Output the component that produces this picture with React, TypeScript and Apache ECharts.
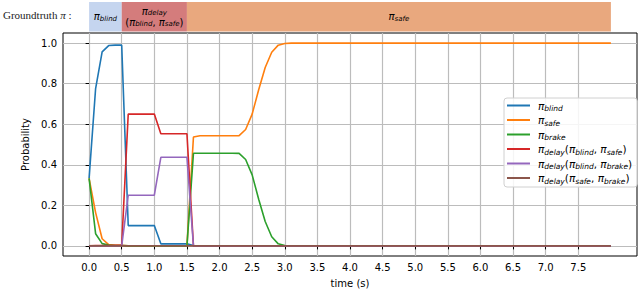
import { useEffect, useRef } from 'react';
import * as echarts from 'echarts';

// time samples (s)
const TIME = [0, 0.1, 0.2, 0.3, 0.4, 0.5, 0.6, 0.7, 0.8, 0.9, 1.0, 1.1, 1.2, 1.3, 1.4, 1.5, 1.6, 1.7, 1.8, 1.9, 2.0, 2.1, 2.2, 2.3, 2.4, 2.5, 2.6, 2.7, 2.8, 2.9, 3.0, 3.1, 3.2, 8.0];

const P_BLIND = [0.333, 0.776, 0.957, 0.988, 0.99, 0.99, 0.1, 0.1, 0.1, 0.1, 0.1, 0.01, 0.01, 0.01, 0.01, 0.01, 0.002, 0, 0, 0, 0, 0, 0, 0, 0, 0, 0, 0, 0, 0, 0, 0, 0, 0];
const P_SAFE = [0.333, 0.164, 0.035, 0.006, 0.003, 0.003, 0, 0, 0, 0, 0, 0, 0, 0, 0, 0, 0.537, 0.543, 0.543, 0.543, 0.543, 0.543, 0.543, 0.544, 0.574, 0.65, 0.77, 0.88, 0.955, 0.99, 0.998, 1.0, 1.0, 1.0];
const P_BRAKE = [0.333, 0.06, 0.011, 0.004, 0.002, 0.002, 0, 0, 0, 0, 0, 0, 0, 0, 0, 0, 0.457, 0.457, 0.457, 0.457, 0.457, 0.457, 0.457, 0.456, 0.426, 0.35, 0.23, 0.12, 0.045, 0.01, 0.002, 0, 0, 0];
const P_DELAY_BS = [0, 0.002, 0.002, 0.002, 0.003, 0.003, 0.65, 0.65, 0.65, 0.65, 0.65, 0.553, 0.553, 0.553, 0.553, 0.553, 0, 0, 0, 0, 0, 0, 0, 0, 0, 0, 0, 0, 0, 0, 0, 0, 0, 0];
const P_DELAY_BBR = [0, 0, 0, 0, 0, 0, 0.25, 0.25, 0.25, 0.25, 0.25, 0.437, 0.437, 0.437, 0.437, 0.437, 0, 0, 0, 0, 0, 0, 0, 0, 0, 0, 0, 0, 0, 0, 0, 0, 0, 0];
const P_DELAY_SBR = [0, 0, 0, 0, 0, 0, 0, 0, 0, 0, 0, 0, 0, 0, 0, 0, 0, 0, 0, 0, 0, 0, 0, 0, 0, 0, 0, 0, 0, 0, 0, 0, 0, 0];

const SERIES_NAMES = ['blind', 'safe', 'brake', 'delayBS', 'delayBBr', 'delaySBr'];
const SERIES_VALUES = [P_BLIND, P_SAFE, P_BRAKE, P_DELAY_BS, P_DELAY_BBR, P_DELAY_SBR];
const SERIES_COLORS = ['#1f77b4', '#ff7f0e', '#2ca02c', '#d62728', '#9467bd', '#8c564b'];
const LEGEND_LABELS = [
  '{p|π}{s|blind}',
  '{p|π}{s|safe}',
  '{p|π}{s|brake}',
  '{p|π}{s|delay}{n|(}{p|π}{s|blind}{n|, }{p|π}{s|safe}{n|)}',
  '{p|π}{s|delay}{n|(}{p|π}{s|blind}{n|, }{p|π}{s|brake}{n|)}',
  '{p|π}{s|delay}{n|(}{p|π}{s|safe}{n|, }{p|π}{s|brake}{n|)}',
];

const X_TICKS = [0, 0.5, 1.0, 1.5, 2.0, 2.5, 3.0, 3.5, 4.0, 4.5, 5.0, 5.5, 6.0, 6.5, 7.0, 7.5];
const Y_TICKS = [0, 0.2, 0.4, 0.6, 0.8, 1.0];

// ground-truth phases
const PHASE_START = [0, 0.5, 1.5];
const PHASE_END = [0.5, 1.5, 8.0];
const PHASE_LABELS = [
  '{p|π}{s|blind}',
  '{p|π}{s|delay}\n{n|(}{p|π}{s|blind}{n|, }{p|π}{s|safe}{n|)}',
  '{p|π}{s|safe}',
];
const PHASE_COLORS = ['#c5d5ef', '#d47c7c', '#e9a87e'];

const FONT = 'DejaVu Sans';

function richStyles(lh: number, big: number, small: number) {
  return {
    p: { fontFamily: FONT, fontSize: big, fontStyle: 'italic', lineHeight: lh, verticalAlign: 'middle', color: '#000' },
    s: { fontFamily: FONT, fontSize: small, fontStyle: 'italic', lineHeight: lh, verticalAlign: 'bottom', color: '#000' },
    n: { fontFamily: FONT, fontSize: big, lineHeight: lh, verticalAlign: 'middle', color: '#000' },
  };
}

export default function App() {
  const ref = useRef<HTMLDivElement>(null);
  useEffect(() => {
    if (!ref.current) return;
    const chart = echarts.init(ref.current, null, { renderer: 'svg' });
    const XMIN = -0.4;
    const XMAX = 8.4;
    const lineSeries = SERIES_NAMES.map((name, i) => ({
      name,
      type: 'line',
      xAxisIndex: 0,
      yAxisIndex: 0,
      data: TIME.map((t, k) => [t, SERIES_VALUES[i][k]]),
      showSymbol: false,
      symbol: 'none',
      lineStyle: { width: 1.6, color: SERIES_COLORS[i] },
      itemStyle: { color: SERIES_COLORS[i] },
      z: 3 + i,
    }));
    const barRich = richStyles(11, 10, 7);
    const gridColor = '#bcbcbc';
    const option: any = {
      animation: false,
      backgroundColor: '#fff',
      grid: [
        { left: 63, right: 3, top: 33, bottom: 31, show: true, borderColor: '#000', borderWidth: 1, backgroundColor: 'transparent' },
        { left: 63, right: 3, top: 2, height: 29.5, show: false },
      ],
      xAxis: [
        {
          type: 'value', gridIndex: 0, min: XMIN, max: XMAX,
          name: 'time (s)', nameLocation: 'middle', nameGap: 22,
          nameTextStyle: { fontFamily: FONT, fontSize: 10, color: '#000' },
          axisLine: { show: false },
          axisTick: { show: true, inside: false, length: 3.5, customValues: X_TICKS, lineStyle: { color: '#000', width: 1 } },
          axisLabel: { customValues: X_TICKS, formatter: (v: number) => v.toFixed(1), fontFamily: FONT, fontSize: 10, color: '#000', margin: 6 },
          splitLine: { show: true, lineStyle: { color: gridColor, width: 1.2 } },
        },
        { type: 'value', gridIndex: 1, min: XMIN, max: XMAX, show: false },
      ],
      yAxis: [
        {
          type: 'value', gridIndex: 0, min: -0.05, max: 1.05,
          name: 'Probability', nameLocation: 'middle', nameGap: 31, nameRotate: 90,
          nameTextStyle: { fontFamily: FONT, fontSize: 10, color: '#000' },
          axisLine: { show: false },
          axisTick: { show: true, inside: false, length: 3.5, customValues: Y_TICKS, lineStyle: { color: '#000', width: 1 } },
          axisLabel: { customValues: Y_TICKS, formatter: (v: number) => v.toFixed(1), fontFamily: FONT, fontSize: 10, color: '#000', margin: 6 },
          splitLine: { show: true, lineStyle: { color: gridColor, width: 1.2 } },
        },
        { type: 'value', gridIndex: 1, min: 0, max: 1, show: false },
      ],
      legend: {
        orient: 'vertical',
        left: 504,
        top: 98,
        data: SERIES_NAMES,
        icon: 'rect',
        itemWidth: 23,
        itemHeight: 2,
        itemGap: 2,
        padding: [2, 5, 2, 3],
        backgroundColor: 'rgba(255,255,255,0.85)',
        borderColor: '#d0d0d0',
        borderWidth: 1,
        borderRadius: 3,
        formatter: (name: string) => LEGEND_LABELS[SERIES_NAMES.indexOf(name)],
        textStyle: { rich: richStyles(14, 10.5, 7.5), padding: [0, 0, 0, 3] },
      },
      graphic: [
        {
          type: 'text', left: 3, top: 9,
          style: {
            text: 'Groundtruth {i|π} :',
            fontFamily: 'Liberation Serif', fontSize: 11, fill: '#222',
            rich: { i: { fontFamily: 'Liberation Serif', fontSize: 11, fontStyle: 'italic', color: '#222' } },
          },
        },
      ],
      series: [
        {
          type: 'custom',
          xAxisIndex: 1,
          yAxisIndex: 1,
          data: PHASE_START.map((s, i) => [s, PHASE_END[i], i]),
          encode: { x: [0, 1] },
          clip: false,
          renderItem: (params: any, api: any) => {
            const s = api.value(0);
            const e = api.value(1);
            const i = api.value(2);
            const p0 = api.coord([s, 1]);
            const p1 = api.coord([e, 0]);
            return {
              type: 'group',
              children: [
                { type: 'rect', shape: { x: p0[0], y: p0[1], width: p1[0] - p0[0], height: p1[1] - p0[1] }, style: { fill: PHASE_COLORS[i] } },
                {
                  type: 'text',
                  x: (p0[0] + p1[0]) / 2,
                  y: (p0[1] + p1[1]) / 2,
                  style: { text: PHASE_LABELS[i], rich: barRich, align: 'center', verticalAlign: 'middle', fill: '#000' },
                },
              ],
            };
          },
        },
        ...lineSeries,
      ],
    };
    chart.setOption(option);
    return () => chart.dispose();
  }, []);
  return <div ref={ref} style={{ width: 640, height: 293, position: 'absolute', left: 0, top: 0 }} />;
}
